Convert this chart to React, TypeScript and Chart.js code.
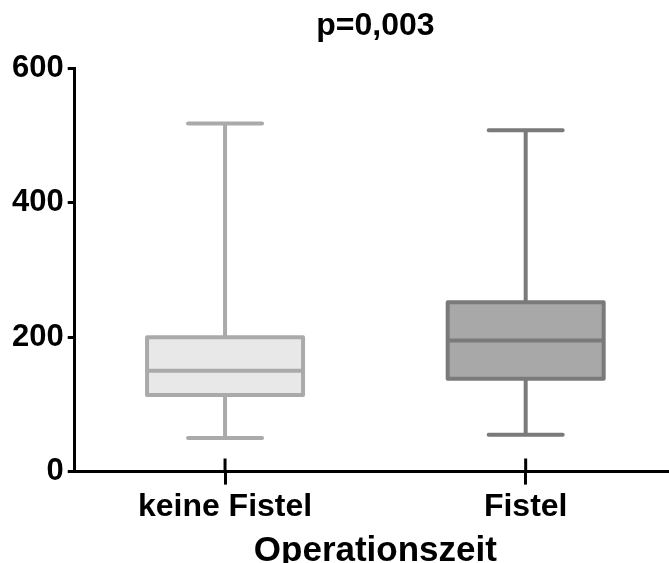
import React, { useEffect, useRef } from "react";
import { Chart, registerables } from "chart.js";

Chart.register(...registerables);

const categories = ["keine Fistel", "Fistel"];
const whiskerMin = [50, 55];
const q1 = [114, 138];
const median = [150, 195];
const q3 = [200, 252];
const whiskerMax = [518, 508];
const yMin = 0;
const yMax = 600;
const yStep = 200;
const titleText = "p=0,003";
const xTitleText = "Operationszeit";
const fillColors = ["#e8e8e8", "#a8a8a8"];
const strokeColors = ["#aaaaaa", "#7a7a7a"];

const boxPlugin = {
  id: "boxWhiskers",
  afterDatasetsDraw(chart: any) {
    const { ctx, scales } = chart;
    const x = scales.x;
    const y = scales.y;
    ctx.save();
    ctx.lineWidth = 4;
    categories.forEach((_, i) => {
      const cx = x.getPixelForValue(i);
      const halfBox = 78;
      const halfCap = 37;
      const yq1 = y.getPixelForValue(q1[i]);
      const yq3 = y.getPixelForValue(q3[i]);
      const ymed = y.getPixelForValue(median[i]);
      const ylo = y.getPixelForValue(whiskerMin[i]);
      const yhi = y.getPixelForValue(whiskerMax[i]);
      ctx.strokeStyle = strokeColors[i];
      ctx.lineCap = "butt";
      ctx.beginPath();
      ctx.moveTo(cx, yq3);
      ctx.lineTo(cx, yhi);
      ctx.moveTo(cx, yq1);
      ctx.lineTo(cx, ylo);
      ctx.stroke();
      ctx.lineCap = "round";
      ctx.beginPath();
      ctx.moveTo(cx - halfCap, yhi);
      ctx.lineTo(cx + halfCap, yhi);
      ctx.moveTo(cx - halfCap, ylo);
      ctx.lineTo(cx + halfCap, ylo);
      ctx.stroke();
      ctx.lineJoin = "round";
      ctx.lineCap = "butt";
      ctx.strokeRect(cx - halfBox, yq3, halfBox * 2, yq1 - yq3);
      ctx.beginPath();
      ctx.moveTo(cx - halfBox, ymed);
      ctx.lineTo(cx + halfBox, ymed);
      ctx.stroke();
    });
    ctx.restore();
  },
  afterDraw(chart: any) {
    const { ctx, scales } = chart;
    const x = scales.x;
    ctx.save();
    ctx.strokeStyle = "#000";
    ctx.lineWidth = 3;
    ctx.beginPath();
    categories.forEach((_, i) => {
      const px = x.getPixelForTick(i);
      ctx.moveTo(px, x.top);
      ctx.lineTo(px, x.top - 13);
    });
    ctx.stroke();
    ctx.restore();
  },
};

export default function App() {
  const ref = useRef<HTMLCanvasElement | null>(null);
  useEffect(() => {
    if (!ref.current) return;
    Chart.defaults.font.family = "'Liberation Sans', Arial, sans-serif";
    Chart.defaults.color = "#000";
    const chart = new Chart(ref.current, {
      type: "bar",
      data: {
        labels: categories,
        datasets: [
          {
            data: categories.map((_, i) => [q1[i], q3[i]]),
            backgroundColor: fillColors,
            borderWidth: 0,
            barThickness: 156,
            xAxisID: "x",
            yAxisID: "y",
          },
        ],
      },
      options: {
        animation: false,
        responsive: true,
        maintainAspectRatio: false,
        layout: { padding: { left: 8, right: 0, top: 0, bottom: 0 } },
        plugins: {
          legend: { display: false },
          tooltip: { enabled: false },
          title: { display: false },
        },
        scales: {
          x: {
            type: "category",
            position: "bottom",
            offset: true,
            grid: {
              offset: false,
              drawOnChartArea: false,
              drawTicks: true,
              tickLength: 13,
              lineWidth: 3,
              color: "#000",
            },
            border: { display: true, color: "#000", width: 3 },
            ticks: {
              padding: 3,
              color: "#000",
              font: { size: 32, weight: "bold" },
              maxRotation: 0,
            },
            title: {
              display: true,
              text: xTitleText,
              color: "#000",
              font: { size: 35, weight: "bold" },
              padding: { top: 1, bottom: 11 },
            },
          },
          x2: {
            type: "category",
            position: "top",
            offset: true,
            grid: { display: false, drawTicks: false },
            border: { display: false },
            ticks: { display: false },
            title: {
              display: true,
              text: titleText,
              color: "#000",
              font: { size: 32, weight: "bold" },
              padding: { top: 7, bottom: 23 },
            },
          },
          y: {
            type: "linear",
            min: yMin,
            max: yMax,
            ticks: {
              stepSize: yStep,
              padding: 4,
              color: "#000",
              font: { size: 31, weight: "bold" },
            },
            grid: {
              drawOnChartArea: false,
              drawTicks: true,
              tickLength: 7,
              lineWidth: 3,
              color: "#000",
            },
            border: { display: true, color: "#000", width: 3 },
          },
        },
      },
      plugins: [boxPlugin],
    });
    return () => chart.destroy();
  }, []);
  return (
    <div
      style={{
        position: "fixed",
        left: 0,
        top: 0,
        width: "676px",
        height: "583px",
        background: "#fff",
      }}
    >
      <canvas ref={ref} />
    </div>
  );
}
